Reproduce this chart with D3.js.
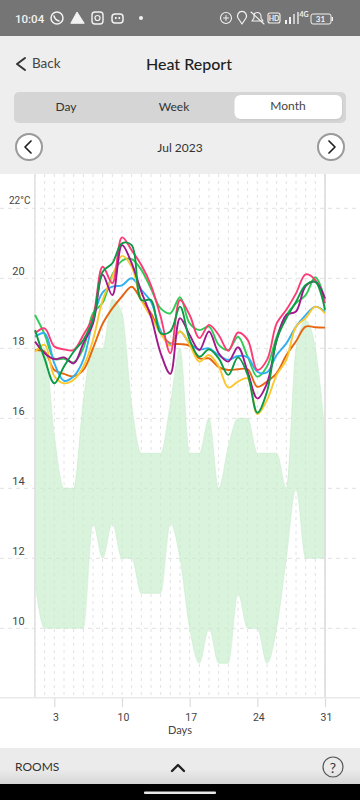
<!DOCTYPE html>
<html><head><meta charset="utf-8">
<script src="https://cdn.jsdelivr.net/npm/d3@7"></script>
<style>html,body{margin:0;padding:0;background:#fff;overflow:hidden}svg{display:block}text{font-family:Lato,"Noto Sans",sans-serif}</style>
</head><body><svg id="c" width="360" height="800"></svg>
<script>
const days = d3.range(1, 32);
const xTicks = [3, 10, 17, 24, 31];
const yTicks = [10, 12, 14, 16, 18, 20, 22];
const bandUpper = [18,18,15.5,14,14,16.5,18,18,19.4,19,16.4,15,15,15,16.4,18,15,15,16,14,15.2,16,16,15,15,15,14,18,18.8,18,15.6];
const bandLower = [11.3,10,10,10,10,10,13,12,13,12,12,11,11,11,13,12,10,9,10,9,9,11,10,10,9,10,12,14,12,12,12];
const pink = [18.43,18.57,18.05,17.97,17.95,18.38,18.9,20.33,19.86,21.17,20.8,20.38,19.8,18.9,17.86,19.38,18.95,18.29,18.67,18.38,17.93,18.45,18.24,17.38,17.67,18.71,19.1,19.57,20.11,19.95,19.29];
const lightGreen = [18.95,18.4,17.7,17.7,17.6,18,19,19.3,20.1,20.5,20.55,20.24,19.7,19.14,19,19.46,18.71,18.52,18.62,18.1,17.95,18.33,17.76,17.19,17.48,18.33,18.95,19.29,19.52,20.03,19.38];
const blue = [18.33,18.43,17.57,17.07,17.2,17.67,18.8,19.6,19.76,19.8,20,19.67,19.33,18.5,18.1,18.48,18.14,17.97,18,17.8,17.67,17.78,17.74,17.33,17.31,17.81,18.14,18.62,18.95,19.19,19.05];
const orange = [17.95,17.9,17.38,17.27,17.2,17.38,18,18.7,19.14,19.48,19.76,19.38,19,18.43,18.14,18.12,18.07,17.71,17.71,17.46,17.38,17.4,17.4,16.9,17.05,17.29,17.8,18.2,18.62,18.6,18.59];
const yellow = [17.9,18.1,17.2,17,17.1,17.48,18.24,19.38,20.05,20.64,20.33,19.38,18.9,18.43,18.07,18.48,18.1,17.62,17.81,17.48,16.88,17.05,17.14,16.12,16.52,17.24,17.67,18.62,18.86,19.19,19];
const purple = [18.19,17.86,17.69,17.74,17.57,18.14,18.7,20.1,19.52,20.95,20.43,19.62,18.9,17.86,17.27,18.86,18.38,17.95,18.48,17.86,17.62,18.03,17.33,16.57,17,18.24,18.95,19.05,19.78,19.9,19.43];
const darkGreen = [18.52,17.7,17,17.48,17.9,18.24,18.8,20.19,20.43,21,20.95,19.38,19.38,18.43,18.48,19.19,18.24,17.76,17.97,17.71,17.24,17.74,17.24,16.16,16.76,18.24,18.86,19.33,19.81,19.9,19.1];
const seriesList = [[orange,"#e5660f"],[lightGreen,"#2fcb55"],[blue,"#30b0f2"],[yellow,"#fcc72e"],[pink,"#fb3c76"],[purple,"#a3178d"],[darkGreen,"#0b9a45"]];

const svg = d3.select("#c");
const x = d3.scaleLinear().domain([1, 31]).range([35, 325]);
const y = d3.scaleLinear().domain([10, 22]).range([628.3, 208.3]);
const rect = (a,b,w,h,f,r=0)=>svg.append("rect").attr("x",a).attr("y",b).attr("width",w).attr("height",h).attr("fill",f).attr("rx",r);
const label = (t,a,b,s,f,anchor="middle",w=400)=>svg.append("text").text(t).attr("x",a).attr("y",b).attr("font-size",s).attr("fill",f).attr("text-anchor",anchor).attr("font-weight",w);
const path = (d,st,sw,f="none")=>svg.append("path").attr("d",d).attr("stroke",st).attr("stroke-width",sw).attr("fill",f).attr("stroke-linecap","round").attr("stroke-linejoin","round");

// chrome
rect(0,0,360,36,"#757575");
rect(0,36,360,138,"#eeeeee");
rect(0,174,360,574,"#ffffff");
label("10:04",15,22.5,11.5,"#f2f2f2","start",500).style("font-family","Roboto");
const w="#f2f2f2";
svg.append("circle").attr("cx",57).attr("cy",18).attr("r",6).attr("fill","none").attr("stroke",w).attr("stroke-width",1.5);
path("M54 16 q1 4 5 5",w,1.5);
path("M71 23 L77 12 L84 23 Z",w,1,w);
rect(92,12,11,12,"none",3).attr("stroke",w).attr("stroke-width",1.4);
svg.append("circle").attr("cx",97.5).attr("cy",18).attr("r",2.5).attr("fill","none").attr("stroke",w).attr("stroke-width",1.2);
rect(112,14,11,9,"none",3).attr("stroke",w).attr("stroke-width",1.5);
rect(115,17,1.6,2,w); rect(118.5,17,1.6,2,w);
svg.append("circle").attr("cx",141).attr("cy",18).attr("r",2).attr("fill",w);
svg.append("circle").attr("cx",226).attr("cy",18).attr("r",5.5).attr("fill","none").attr("stroke",w).attr("stroke-width",1.1);
path("M223.5 18 h5 M226 15.5 v5",w,1);
path("M242 24 L238 18 A4.5 4.5 0 1 1 246 18 Z",w,1.2);
path("M252 21 h11 l-2 -3 v-2 a3.5 3.5 0 0 0 -7 0 v2 Z M251 12 L264 24",w,1.1);
rect(268,13,12,10,"none",2).attr("stroke",w).attr("stroke-width",1.1);
label("HD",274,21,7,w,"middle",700);
rect(285,20,2,4,w); rect(289,17,2,7,w); rect(293,14,2,10,"#c8c8c8"); rect(297,12,2,12,"#c8c8c8");
label("4G",304,17,7,w,"middle",700);
rect(311,14,20,10,"none",2).attr("stroke",w).attr("stroke-width",1);
label("31",320.5,22,8,w,"middle",700); rect(331.5,17,1.5,4,w);

path("M25 58 L17 64 L25 70","#333",2);
label("Back",32,68,13.5,"#444","start");
label("Heat Report",189,70,16,"#1e1e1e","middle",500);
rect(14,92,332,31,"#d5d5d5",5);
rect(234.5,95,107.5,24,"#ccc",6).attr("transform","translate(1,1.5)");
rect(234.5,95,107.5,24,"#ffffff",6);
label("Day",66,111,12,"#333"); label("Week",174,111,12,"#333"); label("Month",288,110,12,"#444");
[[29,"M31 141 L25 147 L31 153"],[331,"M329 141 L335 147 L329 153"]].forEach(([cx,d])=>{
  svg.append("circle").attr("cx",cx).attr("cy",147).attr("r",13).attr("fill","#fff").attr("stroke","#9a9a9a").attr("stroke-width",2);
  path(d,"#222",1.7);
});
label("Jul 2023",180,152,12,"#333");

// grid
const dash="#e2e2e2";
svg.append("g").selectAll("line").data(days).join("line")
  .attr("x1",d=>x(d)).attr("x2",d=>x(d)).attr("y1",174).attr("y2",698)
  .attr("stroke",dash).attr("stroke-width",1).attr("stroke-dasharray","3 4");
svg.append("g").selectAll("line").data(yTicks).join("line")
  .attr("x1",0).attr("x2",360).attr("y1",d=>y(d)).attr("y2",d=>y(d))
  .attr("stroke",dash).attr("stroke-width",1).attr("stroke-dasharray","4 4");

// band
const area = d3.area().x((d,i)=>x(days[i])).y0((d,i)=>y(bandLower[i])).y1(d=>y(d)).curve(d3.curveMonotoneX);
svg.append("path").attr("d",area(bandUpper)).attr("fill","#c4ecc9").attr("fill-opacity",.65).attr("stroke","#c4ecc9").attr("stroke-opacity",.5).attr("stroke-width",1);

// frame + axis
rect(34,174,1.6,524,"#e2e2e2");
rect(324.2,174,1.6,524,"#dddddd");
rect(0,697,360,1.5,"#e9e9e9");
const axis = d3.axisBottom(x).tickValues(xTicks).tickSize(9).tickPadding(7).tickFormat(d3.format("d"));
const ag = svg.append("g").attr("transform","translate(0,698)").call(axis);
ag.select(".domain").remove();
ag.selectAll(".tick line").attr("stroke","#dcdcdc").attr("stroke-width",1.2);
ag.selectAll(".tick text").attr("font-size",10.5).attr("fill","#444").style("font-family","Roboto").attr("dx",1);
label("Days",180,734,11,"#444");

// y labels
yTicks.forEach(t=>{
  const top = t===22;
  label(top?"22°C":String(t),top?9:18.5,y(t)-(top?4.5:3.5),top?10:11,"#444",top?"start":"middle").style("font-family","Roboto");
});

// lines
const line = d3.line().x((d,i)=>x(days[i])).y(d=>y(d)).curve(d3.curveCatmullRom.alpha(0.5));
seriesList.forEach(([vals,col])=>{
  svg.append("path").attr("d",line(vals)).attr("fill","none").attr("stroke",col).attr("stroke-width",1.9).attr("stroke-linejoin","round");
});

// footer
const g = svg.append("defs").append("linearGradient").attr("id","foot").attr("x1",0).attr("x2",0).attr("y1",0).attr("y2",1);
g.append("stop").attr("offset","0.6").attr("stop-color","#ebebeb");
g.append("stop").attr("offset","1").attr("stop-color","#d6d6d6");
rect(0,748,360,36,"url(#foot)");
rect(0,784,360,16,"#000");
rect(144,791.5,72,2.5,"#e8e8e8",1);
label("ROOMS",15,771,12,"#333","start");
path("M172 771 L178 765 L184 771","#222",2.4);
svg.append("circle").attr("cx",333).attr("cy",767).attr("r",10).attr("fill","none").attr("stroke","#555").attr("stroke-width",1.2);
label("?",333,772.5,14,"#333");
</script></body></html>
